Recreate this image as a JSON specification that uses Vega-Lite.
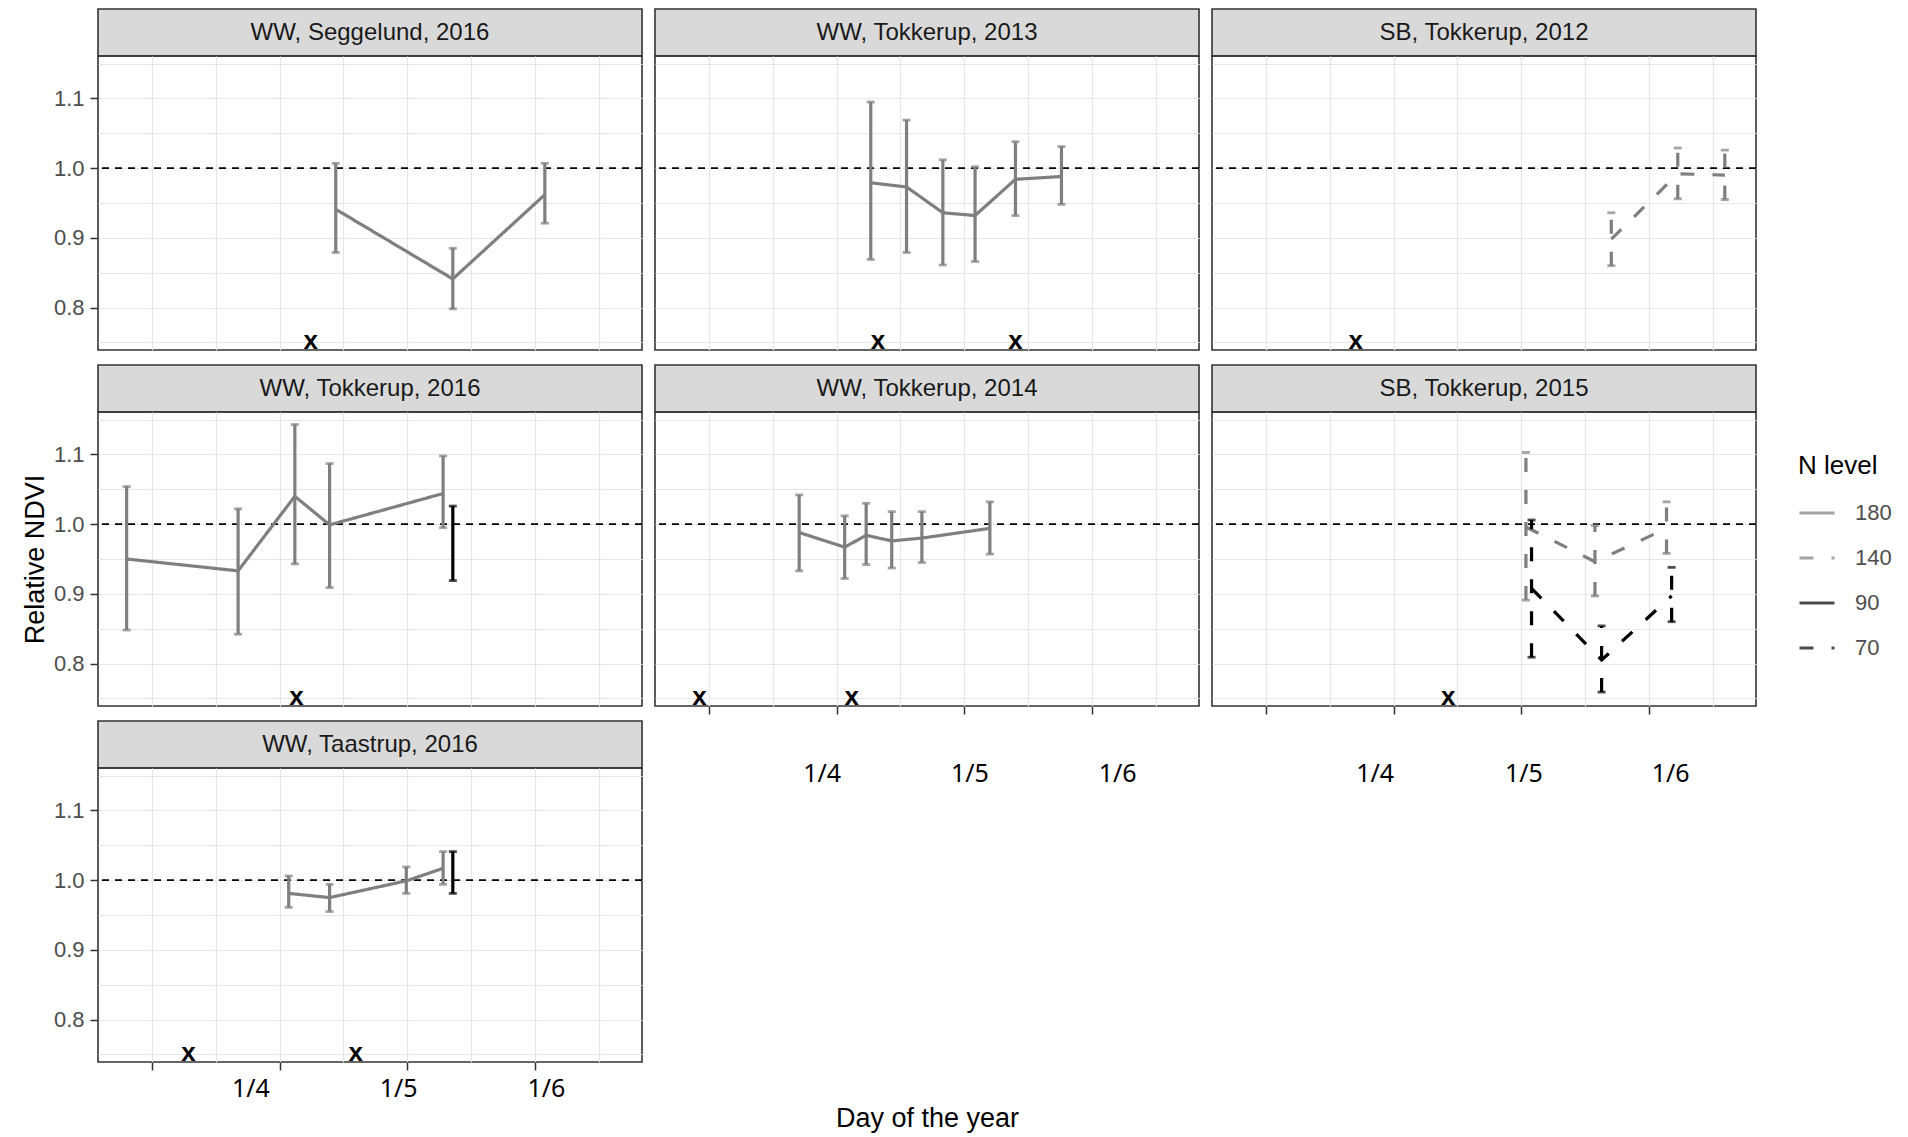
{
"$schema": "https://vega.github.io/schema/vega-lite/v6.json",
"background": "white",
"padding": {"left": 20, "top": 8, "right": 5, "bottom": 5},
"datasets": {
"ndvi": [
{"panel":"WW, Seggelund, 2016","N":"180","doy":111.0,"mean":0.941,"lo":0.879,"hi":1.007},
{"panel":"WW, Seggelund, 2016","N":"180","doy":133.9,"mean":0.841,"lo":0.798,"hi":0.885},
{"panel":"WW, Seggelund, 2016","N":"180","doy":151.9,"mean":0.962,"lo":0.921,"hi":1.007},
{"panel":"WW, Tokkerup, 2013","N":"180","doy":106.7,"mean":0.979,"lo":0.869,"hi":1.095},
{"panel":"WW, Tokkerup, 2013","N":"180","doy":113.7,"mean":0.973,"lo":0.879,"hi":1.069},
{"panel":"WW, Tokkerup, 2013","N":"180","doy":120.8,"mean":0.936,"lo":0.861,"hi":1.012},
{"panel":"WW, Tokkerup, 2013","N":"180","doy":127.1,"mean":0.932,"lo":0.866,"hi":1.002},
{"panel":"WW, Tokkerup, 2013","N":"180","doy":135.0,"mean":0.984,"lo":0.932,"hi":1.038},
{"panel":"WW, Tokkerup, 2013","N":"180","doy":144.0,"mean":0.988,"lo":0.948,"hi":1.031},
{"panel":"SB, Tokkerup, 2012","N":"140","doy":142.6,"mean":0.898,"lo":0.860,"hi":0.936},
{"panel":"SB, Tokkerup, 2012","N":"140","doy":155.6,"mean":0.992,"lo":0.956,"hi":1.029},
{"panel":"SB, Tokkerup, 2012","N":"140","doy":164.8,"mean":0.990,"lo":0.955,"hi":1.026},
{"panel":"WW, Tokkerup, 2016","N":"180","doy":70.1,"mean":0.950,"lo":0.848,"hi":1.054},
{"panel":"WW, Tokkerup, 2016","N":"180","doy":91.9,"mean":0.933,"lo":0.842,"hi":1.022},
{"panel":"WW, Tokkerup, 2016","N":"180","doy":103.0,"mean":1.040,"lo":0.943,"hi":1.143},
{"panel":"WW, Tokkerup, 2016","N":"180","doy":109.8,"mean":0.999,"lo":0.909,"hi":1.087},
{"panel":"WW, Tokkerup, 2016","N":"180","doy":132.0,"mean":1.044,"lo":0.995,"hi":1.098},
{"panel":"WW, Tokkerup, 2016","N":"90","doy":133.9,"mean":0.973,"lo":0.919,"hi":1.026},
{"panel":"WW, Tokkerup, 2014","N":"180","doy":92.7,"mean":0.988,"lo":0.933,"hi":1.042},
{"panel":"WW, Tokkerup, 2014","N":"180","doy":101.6,"mean":0.967,"lo":0.922,"hi":1.012},
{"panel":"WW, Tokkerup, 2014","N":"180","doy":105.8,"mean":0.984,"lo":0.942,"hi":1.030},
{"panel":"WW, Tokkerup, 2014","N":"180","doy":110.8,"mean":0.976,"lo":0.937,"hi":1.018},
{"panel":"WW, Tokkerup, 2014","N":"180","doy":116.7,"mean":0.980,"lo":0.945,"hi":1.018},
{"panel":"WW, Tokkerup, 2014","N":"180","doy":130.0,"mean":0.994,"lo":0.957,"hi":1.032},
{"panel":"SB, Tokkerup, 2015","N":"140","doy":125.9,"mean":0.996,"lo":0.891,"hi":1.103},
{"panel":"SB, Tokkerup, 2015","N":"140","doy":139.4,"mean":0.946,"lo":0.897,"hi":0.998},
{"panel":"SB, Tokkerup, 2015","N":"140","doy":153.4,"mean":0.994,"lo":0.958,"hi":1.032},
{"panel":"SB, Tokkerup, 2015","N":"70","doy":127.0,"mean":0.908,"lo":0.809,"hi":1.006},
{"panel":"SB, Tokkerup, 2015","N":"70","doy":140.7,"mean":0.805,"lo":0.759,"hi":0.854},
{"panel":"SB, Tokkerup, 2015","N":"70","doy":154.4,"mean":0.897,"lo":0.860,"hi":0.938},
{"panel":"WW, Taastrup, 2016","N":"180","doy":101.8,"mean":0.981,"lo":0.961,"hi":1.006},
{"panel":"WW, Taastrup, 2016","N":"180","doy":109.8,"mean":0.975,"lo":0.955,"hi":0.994},
{"panel":"WW, Taastrup, 2016","N":"180","doy":124.8,"mean":0.999,"lo":0.981,"hi":1.019},
{"panel":"WW, Taastrup, 2016","N":"180","doy":132.0,"mean":1.017,"lo":0.994,"hi":1.041},
{"panel":"WW, Taastrup, 2016","N":"90","doy":133.9,"mean":1.011,"lo":0.981,"hi":1.041}
],
"marks": [
{"panel":"WW, Seggelund, 2016","doy":106.1,"level":0.752},
{"panel":"WW, Tokkerup, 2013","doy":108.1,"level":0.752},
{"panel":"WW, Tokkerup, 2013","doy":135.0,"level":0.752},
{"panel":"SB, Tokkerup, 2012","doy":92.6,"level":0.752},
{"panel":"WW, Tokkerup, 2016","doy":103.3,"level":0.752},
{"panel":"WW, Tokkerup, 2014","doy":73.2,"level":0.752},
{"panel":"WW, Tokkerup, 2014","doy":103.0,"level":0.752},
{"panel":"SB, Tokkerup, 2015","doy":110.7,"level":0.752},
{"panel":"WW, Taastrup, 2016","doy":82.2,"level":0.752},
{"panel":"WW, Taastrup, 2016","doy":114.9,"level":0.752}
]
},
"config": {
"font": "Liberation Sans",
"view": {"stroke": "#333333", "strokeWidth": 1.6},
"axis": {"domain": false, "gridColor": "#e6e6e6", "gridWidth": 1.2, "tickColor": "#333333", "tickWidth": 1.5, "tickSize": 8, "labelFont": "Liberation Sans", "labelFontSize": 19, "labelColor": "#4d4d4d", "labelOverlap": false, "labelFlush": false, "titleFont": "Liberation Sans", "titleFontSize": 27, "titleFontWeight": "normal", "titleColor": "#000000"},
"axisX": {"labelFont": "Noto Sans", "labelFontSize": 25, "labelColor": "#000000", "labelAngle": 0},
"axisY": {"labelFontSize": 22, "labelPadding": 6, "titlePadding": 4},
"legend": {"symbolType": "stroke", "symbolSize": 1225, "symbolStrokeWidth": 3, "titleFont": "Liberation Sans", "titleFontSize": 26, "titleFontWeight": "normal", "titleColor": "#000000", "titlePadding": 15, "labelFont": "Liberation Sans", "labelFontSize": 22, "labelColor": "#4d4d4d", "labelOffset": 19, "rowPadding": 15}
},
"spacing": 9,
"hconcat": [
{"spacing": 13, "vconcat": [
 {"vconcat": [
  {"width": 544, "height": 47, "view": {"fill": "#d9d9d9", "stroke": "#333333", "strokeWidth": 1.6}, "data": {"values": [{"label": "WW, Seggelund, 2016"}]}, "mark": {"type": "text", "fontSize": 24, "color": "#1a1a1a"}, "encoding": {"text": {"field": "label"}}},
  {"width": 544, "height": 294, "resolve": {"axis": {"y": "independent"}}, "layer": [
   {"data": {"values": [{"ref": 1}]}, "mark": {"type": "rule", "color": "#000000", "strokeWidth": 1.8, "strokeDash": [7, 6]}, "encoding": {"y": {"field": "ref", "type": "quantitative", "scale": {"domain": [0.739, 1.161], "nice": false, "zero": false}, "axis": {"orient": "left", "values": [0.8,0.9,1,1.1], "format": ".1f", "grid": true, "title": null}}}},
   {"data": {"name": "ndvi"}, "transform": [{"filter": {"field": "panel", "equal": "WW, Seggelund, 2016"}}], "mark": {"type": "line", "strokeWidth": 3.2}, "encoding": {"x": {"field": "doy", "type": "quantitative", "scale": {"domain": [64.5, 170.9], "nice": false, "zero": false}, "axis": {"values": [75,87.5,100,112.5,125,137.5,150,162.5], "grid": true, "labels": false, "ticks": false, "title": null}}, "y": {"field": "mean", "type": "quantitative", "scale": {"domain": [0.739, 1.161], "nice": false, "zero": false}, "axis": null}, "color": {"field": "N", "type": "nominal", "scale": {"domain": ["180","140","90","70"], "range": ["#7f7f7f","#7f7f7f","#000000","#000000"]}, "legend": {"title": "N level", "orient": "none", "legendX": 1700, "legendY": 444}}, "strokeDash": {"field": "N", "type": "nominal", "scale": {"domain": ["180","140","90","70"], "range": [[1,0],[14,18],[1,0],[14,18]]}, "legend": {"title": "N level", "orient": "none", "legendX": 1700, "legendY": 444}}}},
   {"data": {"name": "ndvi"}, "transform": [{"filter": {"field": "panel", "equal": "WW, Seggelund, 2016"}}], "mark": {"type": "rule", "strokeWidth": 3.2}, "encoding": {"x": {"field": "doy", "type": "quantitative", "scale": {"domain": [64.5, 170.9], "nice": false, "zero": false}}, "y": {"field": "lo", "type": "quantitative", "scale": {"domain": [0.739, 1.161], "nice": false, "zero": false}, "axis": null}, "y2": {"field": "hi"}, "color": {"field": "N", "type": "nominal", "scale": {"domain": ["180","140","90","70"], "range": ["#7f7f7f","#7f7f7f","#000000","#000000"]}, "legend": {"title": "N level", "orient": "none", "legendX": 1700, "legendY": 444}}, "strokeDash": {"field": "N", "type": "nominal", "scale": {"domain": ["180","140","90","70"], "range": [[1,0],[14,18],[1,0],[14,18]]}, "legend": {"title": "N level", "orient": "none", "legendX": 1700, "legendY": 444}}}},
   {"data": {"name": "ndvi"}, "transform": [{"filter": {"field": "panel", "equal": "WW, Seggelund, 2016"}}], "mark": {"type": "tick", "orient": "horizontal", "size": 8, "thickness": 2.8}, "encoding": {"x": {"field": "doy", "type": "quantitative", "scale": {"domain": [64.5, 170.9], "nice": false, "zero": false}}, "y": {"field": "lo", "type": "quantitative", "scale": {"domain": [0.739, 1.161], "nice": false, "zero": false}, "axis": null}, "color": {"field": "N", "type": "nominal", "scale": {"domain": ["180","140","90","70"], "range": ["#7f7f7f","#7f7f7f","#000000","#000000"]}, "legend": {"title": "N level", "orient": "none", "legendX": 1700, "legendY": 444}}}},
   {"data": {"name": "ndvi"}, "transform": [{"filter": {"field": "panel", "equal": "WW, Seggelund, 2016"}}], "mark": {"type": "tick", "orient": "horizontal", "size": 8, "thickness": 2.8}, "encoding": {"x": {"field": "doy", "type": "quantitative", "scale": {"domain": [64.5, 170.9], "nice": false, "zero": false}}, "y": {"field": "hi", "type": "quantitative", "scale": {"domain": [0.739, 1.161], "nice": false, "zero": false}, "axis": null}, "color": {"field": "N", "type": "nominal", "scale": {"domain": ["180","140","90","70"], "range": ["#7f7f7f","#7f7f7f","#000000","#000000"]}, "legend": {"title": "N level", "orient": "none", "legendX": 1700, "legendY": 444}}}},
   {"data": {"name": "marks"}, "transform": [{"filter": {"field": "panel", "equal": "WW, Seggelund, 2016"}}], "mark": {"type": "text", "text": "x", "fontSize": 26, "fontWeight": "bold", "color": "#000000", "baseline": "middle", "clip": true}, "encoding": {"x": {"field": "doy", "type": "quantitative", "scale": {"domain": [64.5, 170.9], "nice": false, "zero": false}}, "y": {"field": "level", "type": "quantitative", "scale": {"domain": [0.739, 1.161], "nice": false, "zero": false}, "axis": {"orient": "right", "values": [0.75,0.85,0.95,1.05,1.15], "grid": true, "labels": false, "ticks": false, "title": null}}}}
  ]}
 ], "spacing": 0, "bounds": "flush"},
 {"vconcat": [
  {"width": 544, "height": 47, "view": {"fill": "#d9d9d9", "stroke": "#333333", "strokeWidth": 1.6}, "data": {"values": [{"label": "WW, Tokkerup, 2016"}]}, "mark": {"type": "text", "fontSize": 24, "color": "#1a1a1a"}, "encoding": {"text": {"field": "label"}}},
  {"width": 544, "height": 294, "resolve": {"axis": {"y": "independent"}}, "layer": [
   {"data": {"values": [{"ref": 1}]}, "mark": {"type": "rule", "color": "#000000", "strokeWidth": 1.8, "strokeDash": [7, 6]}, "encoding": {"y": {"field": "ref", "type": "quantitative", "scale": {"domain": [0.739, 1.161], "nice": false, "zero": false}, "axis": {"orient": "left", "values": [0.8,0.9,1,1.1], "format": ".1f", "grid": true, "title": "Relative NDVI"}}}},
   {"data": {"name": "ndvi"}, "transform": [{"filter": {"field": "panel", "equal": "WW, Tokkerup, 2016"}}], "mark": {"type": "line", "strokeWidth": 3.2}, "encoding": {"x": {"field": "doy", "type": "quantitative", "scale": {"domain": [64.5, 170.9], "nice": false, "zero": false}, "axis": {"values": [75,87.5,100,112.5,125,137.5,150,162.5], "grid": true, "labels": false, "ticks": false, "title": null}}, "y": {"field": "mean", "type": "quantitative", "scale": {"domain": [0.739, 1.161], "nice": false, "zero": false}, "axis": null}, "color": {"field": "N", "type": "nominal", "scale": {"domain": ["180","140","90","70"], "range": ["#7f7f7f","#7f7f7f","#000000","#000000"]}, "legend": {"title": "N level", "orient": "none", "legendX": 1700, "legendY": 444}}, "strokeDash": {"field": "N", "type": "nominal", "scale": {"domain": ["180","140","90","70"], "range": [[1,0],[14,18],[1,0],[14,18]]}, "legend": {"title": "N level", "orient": "none", "legendX": 1700, "legendY": 444}}}},
   {"data": {"name": "ndvi"}, "transform": [{"filter": {"field": "panel", "equal": "WW, Tokkerup, 2016"}}], "mark": {"type": "rule", "strokeWidth": 3.2}, "encoding": {"x": {"field": "doy", "type": "quantitative", "scale": {"domain": [64.5, 170.9], "nice": false, "zero": false}}, "y": {"field": "lo", "type": "quantitative", "scale": {"domain": [0.739, 1.161], "nice": false, "zero": false}, "axis": null}, "y2": {"field": "hi"}, "color": {"field": "N", "type": "nominal", "scale": {"domain": ["180","140","90","70"], "range": ["#7f7f7f","#7f7f7f","#000000","#000000"]}, "legend": {"title": "N level", "orient": "none", "legendX": 1700, "legendY": 444}}, "strokeDash": {"field": "N", "type": "nominal", "scale": {"domain": ["180","140","90","70"], "range": [[1,0],[14,18],[1,0],[14,18]]}, "legend": {"title": "N level", "orient": "none", "legendX": 1700, "legendY": 444}}}},
   {"data": {"name": "ndvi"}, "transform": [{"filter": {"field": "panel", "equal": "WW, Tokkerup, 2016"}}], "mark": {"type": "tick", "orient": "horizontal", "size": 8, "thickness": 2.8}, "encoding": {"x": {"field": "doy", "type": "quantitative", "scale": {"domain": [64.5, 170.9], "nice": false, "zero": false}}, "y": {"field": "lo", "type": "quantitative", "scale": {"domain": [0.739, 1.161], "nice": false, "zero": false}, "axis": null}, "color": {"field": "N", "type": "nominal", "scale": {"domain": ["180","140","90","70"], "range": ["#7f7f7f","#7f7f7f","#000000","#000000"]}, "legend": {"title": "N level", "orient": "none", "legendX": 1700, "legendY": 444}}}},
   {"data": {"name": "ndvi"}, "transform": [{"filter": {"field": "panel", "equal": "WW, Tokkerup, 2016"}}], "mark": {"type": "tick", "orient": "horizontal", "size": 8, "thickness": 2.8}, "encoding": {"x": {"field": "doy", "type": "quantitative", "scale": {"domain": [64.5, 170.9], "nice": false, "zero": false}}, "y": {"field": "hi", "type": "quantitative", "scale": {"domain": [0.739, 1.161], "nice": false, "zero": false}, "axis": null}, "color": {"field": "N", "type": "nominal", "scale": {"domain": ["180","140","90","70"], "range": ["#7f7f7f","#7f7f7f","#000000","#000000"]}, "legend": {"title": "N level", "orient": "none", "legendX": 1700, "legendY": 444}}}},
   {"data": {"name": "marks"}, "transform": [{"filter": {"field": "panel", "equal": "WW, Tokkerup, 2016"}}], "mark": {"type": "text", "text": "x", "fontSize": 26, "fontWeight": "bold", "color": "#000000", "baseline": "middle", "clip": true}, "encoding": {"x": {"field": "doy", "type": "quantitative", "scale": {"domain": [64.5, 170.9], "nice": false, "zero": false}}, "y": {"field": "level", "type": "quantitative", "scale": {"domain": [0.739, 1.161], "nice": false, "zero": false}, "axis": {"orient": "right", "values": [0.75,0.85,0.95,1.05,1.15], "grid": true, "labels": false, "ticks": false, "title": null}}}}
  ]}
 ], "spacing": 0, "bounds": "flush"},
 {"vconcat": [
  {"width": 544, "height": 47, "view": {"fill": "#d9d9d9", "stroke": "#333333", "strokeWidth": 1.6}, "data": {"values": [{"label": "WW, Taastrup, 2016"}]}, "mark": {"type": "text", "fontSize": 24, "color": "#1a1a1a"}, "encoding": {"text": {"field": "label"}}},
  {"width": 544, "height": 294, "resolve": {"axis": {"y": "independent"}}, "layer": [
   {"data": {"values": [{"ref": 1}]}, "mark": {"type": "rule", "color": "#000000", "strokeWidth": 1.8, "strokeDash": [7, 6]}, "encoding": {"y": {"field": "ref", "type": "quantitative", "scale": {"domain": [0.739, 1.161], "nice": false, "zero": false}, "axis": {"orient": "left", "values": [0.8,0.9,1,1.1], "format": ".1f", "grid": true, "title": null}}}},
   {"data": {"name": "ndvi"}, "transform": [{"filter": {"field": "panel", "equal": "WW, Taastrup, 2016"}}], "mark": {"type": "line", "strokeWidth": 3.2}, "encoding": {"x": {"field": "doy", "type": "quantitative", "scale": {"domain": [64.5, 170.9], "nice": false, "zero": false}, "axis": {"values": [75,87.5,100,112.5,125,137.5,150,162.5,94.3,123.2,152.1], "grid": true, "gridOpacity": {"condition": {"test": "datum.value % 12.5 == 0", "value": 1}, "value": 0}, "tickOpacity": {"condition": {"test": "datum.value % 25 == 0", "value": 1}, "value": 0}, "labelExpr": "datum.value % 12.5 == 0 ? '' : datum.value < 110 ? '1/4' : datum.value < 140 ? '1/5' : '1/6'", "labelPadding": 6, "title": null}}, "y": {"field": "mean", "type": "quantitative", "scale": {"domain": [0.739, 1.161], "nice": false, "zero": false}, "axis": null}, "color": {"field": "N", "type": "nominal", "scale": {"domain": ["180","140","90","70"], "range": ["#7f7f7f","#7f7f7f","#000000","#000000"]}, "legend": {"title": "N level", "orient": "none", "legendX": 1700, "legendY": 444}}, "strokeDash": {"field": "N", "type": "nominal", "scale": {"domain": ["180","140","90","70"], "range": [[1,0],[14,18],[1,0],[14,18]]}, "legend": {"title": "N level", "orient": "none", "legendX": 1700, "legendY": 444}}}},
   {"data": {"name": "ndvi"}, "transform": [{"filter": {"field": "panel", "equal": "WW, Taastrup, 2016"}}], "mark": {"type": "rule", "strokeWidth": 3.2}, "encoding": {"x": {"field": "doy", "type": "quantitative", "scale": {"domain": [64.5, 170.9], "nice": false, "zero": false}}, "y": {"field": "lo", "type": "quantitative", "scale": {"domain": [0.739, 1.161], "nice": false, "zero": false}, "axis": null}, "y2": {"field": "hi"}, "color": {"field": "N", "type": "nominal", "scale": {"domain": ["180","140","90","70"], "range": ["#7f7f7f","#7f7f7f","#000000","#000000"]}, "legend": {"title": "N level", "orient": "none", "legendX": 1700, "legendY": 444}}, "strokeDash": {"field": "N", "type": "nominal", "scale": {"domain": ["180","140","90","70"], "range": [[1,0],[14,18],[1,0],[14,18]]}, "legend": {"title": "N level", "orient": "none", "legendX": 1700, "legendY": 444}}}},
   {"data": {"name": "ndvi"}, "transform": [{"filter": {"field": "panel", "equal": "WW, Taastrup, 2016"}}], "mark": {"type": "tick", "orient": "horizontal", "size": 8, "thickness": 2.8}, "encoding": {"x": {"field": "doy", "type": "quantitative", "scale": {"domain": [64.5, 170.9], "nice": false, "zero": false}}, "y": {"field": "lo", "type": "quantitative", "scale": {"domain": [0.739, 1.161], "nice": false, "zero": false}, "axis": null}, "color": {"field": "N", "type": "nominal", "scale": {"domain": ["180","140","90","70"], "range": ["#7f7f7f","#7f7f7f","#000000","#000000"]}, "legend": {"title": "N level", "orient": "none", "legendX": 1700, "legendY": 444}}}},
   {"data": {"name": "ndvi"}, "transform": [{"filter": {"field": "panel", "equal": "WW, Taastrup, 2016"}}], "mark": {"type": "tick", "orient": "horizontal", "size": 8, "thickness": 2.8}, "encoding": {"x": {"field": "doy", "type": "quantitative", "scale": {"domain": [64.5, 170.9], "nice": false, "zero": false}}, "y": {"field": "hi", "type": "quantitative", "scale": {"domain": [0.739, 1.161], "nice": false, "zero": false}, "axis": null}, "color": {"field": "N", "type": "nominal", "scale": {"domain": ["180","140","90","70"], "range": ["#7f7f7f","#7f7f7f","#000000","#000000"]}, "legend": {"title": "N level", "orient": "none", "legendX": 1700, "legendY": 444}}}},
   {"data": {"name": "marks"}, "transform": [{"filter": {"field": "panel", "equal": "WW, Taastrup, 2016"}}], "mark": {"type": "text", "text": "x", "fontSize": 26, "fontWeight": "bold", "color": "#000000", "baseline": "middle", "clip": true}, "encoding": {"x": {"field": "doy", "type": "quantitative", "scale": {"domain": [64.5, 170.9], "nice": false, "zero": false}}, "y": {"field": "level", "type": "quantitative", "scale": {"domain": [0.739, 1.161], "nice": false, "zero": false}, "axis": {"orient": "right", "values": [0.75,0.85,0.95,1.05,1.15], "grid": true, "labels": false, "ticks": false, "title": null}}}}
  ]}
 ], "spacing": 0, "bounds": "flush"}
]},
{"spacing": 13, "vconcat": [
 {"vconcat": [
  {"width": 544, "height": 47, "view": {"fill": "#d9d9d9", "stroke": "#333333", "strokeWidth": 1.6}, "data": {"values": [{"label": "WW, Tokkerup, 2013"}]}, "mark": {"type": "text", "fontSize": 24, "color": "#1a1a1a"}, "encoding": {"text": {"field": "label"}}},
  {"width": 544, "height": 294, "resolve": {"axis": {"y": "independent"}}, "layer": [
   {"data": {"values": [{"ref": 1}]}, "mark": {"type": "rule", "color": "#000000", "strokeWidth": 1.8, "strokeDash": [7, 6]}, "encoding": {"y": {"field": "ref", "type": "quantitative", "scale": {"domain": [0.739, 1.161], "nice": false, "zero": false}, "axis": {"orient": "left", "values": [0.8,0.9,1,1.1], "grid": true, "labels": false, "ticks": false, "title": null}}}},
   {"data": {"name": "ndvi"}, "transform": [{"filter": {"field": "panel", "equal": "WW, Tokkerup, 2013"}}], "mark": {"type": "line", "strokeWidth": 3.2}, "encoding": {"x": {"field": "doy", "type": "quantitative", "scale": {"domain": [64.5, 170.9], "nice": false, "zero": false}, "axis": {"values": [75,87.5,100,112.5,125,137.5,150,162.5], "grid": true, "labels": false, "ticks": false, "title": null}}, "y": {"field": "mean", "type": "quantitative", "scale": {"domain": [0.739, 1.161], "nice": false, "zero": false}, "axis": null}, "color": {"field": "N", "type": "nominal", "scale": {"domain": ["180","140","90","70"], "range": ["#7f7f7f","#7f7f7f","#000000","#000000"]}, "legend": {"title": "N level", "orient": "none", "legendX": 1700, "legendY": 444}}, "strokeDash": {"field": "N", "type": "nominal", "scale": {"domain": ["180","140","90","70"], "range": [[1,0],[14,18],[1,0],[14,18]]}, "legend": {"title": "N level", "orient": "none", "legendX": 1700, "legendY": 444}}}},
   {"data": {"name": "ndvi"}, "transform": [{"filter": {"field": "panel", "equal": "WW, Tokkerup, 2013"}}], "mark": {"type": "rule", "strokeWidth": 3.2}, "encoding": {"x": {"field": "doy", "type": "quantitative", "scale": {"domain": [64.5, 170.9], "nice": false, "zero": false}}, "y": {"field": "lo", "type": "quantitative", "scale": {"domain": [0.739, 1.161], "nice": false, "zero": false}, "axis": null}, "y2": {"field": "hi"}, "color": {"field": "N", "type": "nominal", "scale": {"domain": ["180","140","90","70"], "range": ["#7f7f7f","#7f7f7f","#000000","#000000"]}, "legend": {"title": "N level", "orient": "none", "legendX": 1700, "legendY": 444}}, "strokeDash": {"field": "N", "type": "nominal", "scale": {"domain": ["180","140","90","70"], "range": [[1,0],[14,18],[1,0],[14,18]]}, "legend": {"title": "N level", "orient": "none", "legendX": 1700, "legendY": 444}}}},
   {"data": {"name": "ndvi"}, "transform": [{"filter": {"field": "panel", "equal": "WW, Tokkerup, 2013"}}], "mark": {"type": "tick", "orient": "horizontal", "size": 8, "thickness": 2.8}, "encoding": {"x": {"field": "doy", "type": "quantitative", "scale": {"domain": [64.5, 170.9], "nice": false, "zero": false}}, "y": {"field": "lo", "type": "quantitative", "scale": {"domain": [0.739, 1.161], "nice": false, "zero": false}, "axis": null}, "color": {"field": "N", "type": "nominal", "scale": {"domain": ["180","140","90","70"], "range": ["#7f7f7f","#7f7f7f","#000000","#000000"]}, "legend": {"title": "N level", "orient": "none", "legendX": 1700, "legendY": 444}}}},
   {"data": {"name": "ndvi"}, "transform": [{"filter": {"field": "panel", "equal": "WW, Tokkerup, 2013"}}], "mark": {"type": "tick", "orient": "horizontal", "size": 8, "thickness": 2.8}, "encoding": {"x": {"field": "doy", "type": "quantitative", "scale": {"domain": [64.5, 170.9], "nice": false, "zero": false}}, "y": {"field": "hi", "type": "quantitative", "scale": {"domain": [0.739, 1.161], "nice": false, "zero": false}, "axis": null}, "color": {"field": "N", "type": "nominal", "scale": {"domain": ["180","140","90","70"], "range": ["#7f7f7f","#7f7f7f","#000000","#000000"]}, "legend": {"title": "N level", "orient": "none", "legendX": 1700, "legendY": 444}}}},
   {"data": {"name": "marks"}, "transform": [{"filter": {"field": "panel", "equal": "WW, Tokkerup, 2013"}}], "mark": {"type": "text", "text": "x", "fontSize": 26, "fontWeight": "bold", "color": "#000000", "baseline": "middle", "clip": true}, "encoding": {"x": {"field": "doy", "type": "quantitative", "scale": {"domain": [64.5, 170.9], "nice": false, "zero": false}}, "y": {"field": "level", "type": "quantitative", "scale": {"domain": [0.739, 1.161], "nice": false, "zero": false}, "axis": {"orient": "right", "values": [0.75,0.85,0.95,1.05,1.15], "grid": true, "labels": false, "ticks": false, "title": null}}}}
  ]}
 ], "spacing": 0, "bounds": "flush"},
 {"vconcat": [
  {"width": 544, "height": 47, "view": {"fill": "#d9d9d9", "stroke": "#333333", "strokeWidth": 1.6}, "data": {"values": [{"label": "WW, Tokkerup, 2014"}]}, "mark": {"type": "text", "fontSize": 24, "color": "#1a1a1a"}, "encoding": {"text": {"field": "label"}}},
  {"width": 544, "height": 294, "resolve": {"axis": {"y": "independent"}}, "layer": [
   {"data": {"values": [{"ref": 1}]}, "mark": {"type": "rule", "color": "#000000", "strokeWidth": 1.8, "strokeDash": [7, 6]}, "encoding": {"y": {"field": "ref", "type": "quantitative", "scale": {"domain": [0.739, 1.161], "nice": false, "zero": false}, "axis": {"orient": "left", "values": [0.8,0.9,1,1.1], "grid": true, "labels": false, "ticks": false, "title": null}}}},
   {"data": {"name": "ndvi"}, "transform": [{"filter": {"field": "panel", "equal": "WW, Tokkerup, 2014"}}], "mark": {"type": "line", "strokeWidth": 3.2}, "encoding": {"x": {"field": "doy", "type": "quantitative", "scale": {"domain": [64.5, 170.9], "nice": false, "zero": false}, "axis": {"values": [75,87.5,100,112.5,125,137.5,150,162.5,97.1,126,154.9], "grid": true, "gridOpacity": {"condition": {"test": "datum.value % 12.5 == 0", "value": 1}, "value": 0}, "tickOpacity": {"condition": {"test": "datum.value % 25 == 0", "value": 1}, "value": 0}, "labelExpr": "datum.value % 12.5 == 0 ? '' : datum.value < 110 ? '1/4' : datum.value < 140 ? '1/5' : '1/6'", "labelPadding": 47, "title": "Day of the year", "titleX": 272, "titleY": 412, "titleAlign": "center", "titleBaseline": "middle"}}, "y": {"field": "mean", "type": "quantitative", "scale": {"domain": [0.739, 1.161], "nice": false, "zero": false}, "axis": null}, "color": {"field": "N", "type": "nominal", "scale": {"domain": ["180","140","90","70"], "range": ["#7f7f7f","#7f7f7f","#000000","#000000"]}, "legend": {"title": "N level", "orient": "none", "legendX": 1700, "legendY": 444}}, "strokeDash": {"field": "N", "type": "nominal", "scale": {"domain": ["180","140","90","70"], "range": [[1,0],[14,18],[1,0],[14,18]]}, "legend": {"title": "N level", "orient": "none", "legendX": 1700, "legendY": 444}}}},
   {"data": {"name": "ndvi"}, "transform": [{"filter": {"field": "panel", "equal": "WW, Tokkerup, 2014"}}], "mark": {"type": "rule", "strokeWidth": 3.2}, "encoding": {"x": {"field": "doy", "type": "quantitative", "scale": {"domain": [64.5, 170.9], "nice": false, "zero": false}}, "y": {"field": "lo", "type": "quantitative", "scale": {"domain": [0.739, 1.161], "nice": false, "zero": false}, "axis": null}, "y2": {"field": "hi"}, "color": {"field": "N", "type": "nominal", "scale": {"domain": ["180","140","90","70"], "range": ["#7f7f7f","#7f7f7f","#000000","#000000"]}, "legend": {"title": "N level", "orient": "none", "legendX": 1700, "legendY": 444}}, "strokeDash": {"field": "N", "type": "nominal", "scale": {"domain": ["180","140","90","70"], "range": [[1,0],[14,18],[1,0],[14,18]]}, "legend": {"title": "N level", "orient": "none", "legendX": 1700, "legendY": 444}}}},
   {"data": {"name": "ndvi"}, "transform": [{"filter": {"field": "panel", "equal": "WW, Tokkerup, 2014"}}], "mark": {"type": "tick", "orient": "horizontal", "size": 8, "thickness": 2.8}, "encoding": {"x": {"field": "doy", "type": "quantitative", "scale": {"domain": [64.5, 170.9], "nice": false, "zero": false}}, "y": {"field": "lo", "type": "quantitative", "scale": {"domain": [0.739, 1.161], "nice": false, "zero": false}, "axis": null}, "color": {"field": "N", "type": "nominal", "scale": {"domain": ["180","140","90","70"], "range": ["#7f7f7f","#7f7f7f","#000000","#000000"]}, "legend": {"title": "N level", "orient": "none", "legendX": 1700, "legendY": 444}}}},
   {"data": {"name": "ndvi"}, "transform": [{"filter": {"field": "panel", "equal": "WW, Tokkerup, 2014"}}], "mark": {"type": "tick", "orient": "horizontal", "size": 8, "thickness": 2.8}, "encoding": {"x": {"field": "doy", "type": "quantitative", "scale": {"domain": [64.5, 170.9], "nice": false, "zero": false}}, "y": {"field": "hi", "type": "quantitative", "scale": {"domain": [0.739, 1.161], "nice": false, "zero": false}, "axis": null}, "color": {"field": "N", "type": "nominal", "scale": {"domain": ["180","140","90","70"], "range": ["#7f7f7f","#7f7f7f","#000000","#000000"]}, "legend": {"title": "N level", "orient": "none", "legendX": 1700, "legendY": 444}}}},
   {"data": {"name": "marks"}, "transform": [{"filter": {"field": "panel", "equal": "WW, Tokkerup, 2014"}}], "mark": {"type": "text", "text": "x", "fontSize": 26, "fontWeight": "bold", "color": "#000000", "baseline": "middle", "clip": true}, "encoding": {"x": {"field": "doy", "type": "quantitative", "scale": {"domain": [64.5, 170.9], "nice": false, "zero": false}}, "y": {"field": "level", "type": "quantitative", "scale": {"domain": [0.739, 1.161], "nice": false, "zero": false}, "axis": {"orient": "right", "values": [0.75,0.85,0.95,1.05,1.15], "grid": true, "labels": false, "ticks": false, "title": null}}}}
  ]}
 ], "spacing": 0, "bounds": "flush"}
]},
{"spacing": 13, "vconcat": [
 {"vconcat": [
  {"width": 544, "height": 47, "view": {"fill": "#d9d9d9", "stroke": "#333333", "strokeWidth": 1.6}, "data": {"values": [{"label": "SB, Tokkerup, 2012"}]}, "mark": {"type": "text", "fontSize": 24, "color": "#1a1a1a"}, "encoding": {"text": {"field": "label"}}},
  {"width": 544, "height": 294, "resolve": {"axis": {"y": "independent"}}, "layer": [
   {"data": {"values": [{"ref": 1}]}, "mark": {"type": "rule", "color": "#000000", "strokeWidth": 1.8, "strokeDash": [7, 6]}, "encoding": {"y": {"field": "ref", "type": "quantitative", "scale": {"domain": [0.739, 1.161], "nice": false, "zero": false}, "axis": {"orient": "left", "values": [0.8,0.9,1,1.1], "grid": true, "labels": false, "ticks": false, "title": null}}}},
   {"data": {"name": "ndvi"}, "transform": [{"filter": {"field": "panel", "equal": "SB, Tokkerup, 2012"}}], "mark": {"type": "line", "strokeWidth": 3.2}, "encoding": {"x": {"field": "doy", "type": "quantitative", "scale": {"domain": [64.5, 170.9], "nice": false, "zero": false}, "axis": {"values": [75,87.5,100,112.5,125,137.5,150,162.5], "grid": true, "labels": false, "ticks": false, "title": null}}, "y": {"field": "mean", "type": "quantitative", "scale": {"domain": [0.739, 1.161], "nice": false, "zero": false}, "axis": null}, "color": {"field": "N", "type": "nominal", "scale": {"domain": ["180","140","90","70"], "range": ["#7f7f7f","#7f7f7f","#000000","#000000"]}, "legend": {"title": "N level", "orient": "none", "legendX": 1700, "legendY": 444}}, "strokeDash": {"field": "N", "type": "nominal", "scale": {"domain": ["180","140","90","70"], "range": [[1,0],[14,18],[1,0],[14,18]]}, "legend": {"title": "N level", "orient": "none", "legendX": 1700, "legendY": 444}}}},
   {"data": {"name": "ndvi"}, "transform": [{"filter": {"field": "panel", "equal": "SB, Tokkerup, 2012"}}], "mark": {"type": "rule", "strokeWidth": 3.2}, "encoding": {"x": {"field": "doy", "type": "quantitative", "scale": {"domain": [64.5, 170.9], "nice": false, "zero": false}}, "y": {"field": "lo", "type": "quantitative", "scale": {"domain": [0.739, 1.161], "nice": false, "zero": false}, "axis": null}, "y2": {"field": "hi"}, "color": {"field": "N", "type": "nominal", "scale": {"domain": ["180","140","90","70"], "range": ["#7f7f7f","#7f7f7f","#000000","#000000"]}, "legend": {"title": "N level", "orient": "none", "legendX": 1700, "legendY": 444}}, "strokeDash": {"field": "N", "type": "nominal", "scale": {"domain": ["180","140","90","70"], "range": [[1,0],[14,18],[1,0],[14,18]]}, "legend": {"title": "N level", "orient": "none", "legendX": 1700, "legendY": 444}}}},
   {"data": {"name": "ndvi"}, "transform": [{"filter": {"field": "panel", "equal": "SB, Tokkerup, 2012"}}], "mark": {"type": "tick", "orient": "horizontal", "size": 8, "thickness": 2.8}, "encoding": {"x": {"field": "doy", "type": "quantitative", "scale": {"domain": [64.5, 170.9], "nice": false, "zero": false}}, "y": {"field": "lo", "type": "quantitative", "scale": {"domain": [0.739, 1.161], "nice": false, "zero": false}, "axis": null}, "color": {"field": "N", "type": "nominal", "scale": {"domain": ["180","140","90","70"], "range": ["#7f7f7f","#7f7f7f","#000000","#000000"]}, "legend": {"title": "N level", "orient": "none", "legendX": 1700, "legendY": 444}}}},
   {"data": {"name": "ndvi"}, "transform": [{"filter": {"field": "panel", "equal": "SB, Tokkerup, 2012"}}], "mark": {"type": "tick", "orient": "horizontal", "size": 8, "thickness": 2.8}, "encoding": {"x": {"field": "doy", "type": "quantitative", "scale": {"domain": [64.5, 170.9], "nice": false, "zero": false}}, "y": {"field": "hi", "type": "quantitative", "scale": {"domain": [0.739, 1.161], "nice": false, "zero": false}, "axis": null}, "color": {"field": "N", "type": "nominal", "scale": {"domain": ["180","140","90","70"], "range": ["#7f7f7f","#7f7f7f","#000000","#000000"]}, "legend": {"title": "N level", "orient": "none", "legendX": 1700, "legendY": 444}}}},
   {"data": {"name": "marks"}, "transform": [{"filter": {"field": "panel", "equal": "SB, Tokkerup, 2012"}}], "mark": {"type": "text", "text": "x", "fontSize": 26, "fontWeight": "bold", "color": "#000000", "baseline": "middle", "clip": true}, "encoding": {"x": {"field": "doy", "type": "quantitative", "scale": {"domain": [64.5, 170.9], "nice": false, "zero": false}}, "y": {"field": "level", "type": "quantitative", "scale": {"domain": [0.739, 1.161], "nice": false, "zero": false}, "axis": {"orient": "right", "values": [0.75,0.85,0.95,1.05,1.15], "grid": true, "labels": false, "ticks": false, "title": null}}}}
  ]}
 ], "spacing": 0, "bounds": "flush"},
 {"vconcat": [
  {"width": 544, "height": 47, "view": {"fill": "#d9d9d9", "stroke": "#333333", "strokeWidth": 1.6}, "data": {"values": [{"label": "SB, Tokkerup, 2015"}]}, "mark": {"type": "text", "fontSize": 24, "color": "#1a1a1a"}, "encoding": {"text": {"field": "label"}}},
  {"width": 544, "height": 294, "resolve": {"axis": {"y": "independent"}}, "layer": [
   {"data": {"values": [{"ref": 1}]}, "mark": {"type": "rule", "color": "#000000", "strokeWidth": 1.8, "strokeDash": [7, 6]}, "encoding": {"y": {"field": "ref", "type": "quantitative", "scale": {"domain": [0.739, 1.161], "nice": false, "zero": false}, "axis": {"orient": "left", "values": [0.8,0.9,1,1.1], "grid": true, "labels": false, "ticks": false, "title": null}}}},
   {"data": {"name": "ndvi"}, "transform": [{"filter": {"field": "panel", "equal": "SB, Tokkerup, 2015"}}], "mark": {"type": "line", "strokeWidth": 3.2}, "encoding": {"x": {"field": "doy", "type": "quantitative", "scale": {"domain": [64.5, 170.9], "nice": false, "zero": false}, "axis": {"values": [75,87.5,100,112.5,125,137.5,150,162.5,96.3,125.4,154.1], "grid": true, "gridOpacity": {"condition": {"test": "datum.value % 12.5 == 0", "value": 1}, "value": 0}, "tickOpacity": {"condition": {"test": "datum.value % 25 == 0", "value": 1}, "value": 0}, "labelExpr": "datum.value % 12.5 == 0 ? '' : datum.value < 110 ? '1/4' : datum.value < 140 ? '1/5' : '1/6'", "labelPadding": 47, "title": null}}, "y": {"field": "mean", "type": "quantitative", "scale": {"domain": [0.739, 1.161], "nice": false, "zero": false}, "axis": null}, "color": {"field": "N", "type": "nominal", "scale": {"domain": ["180","140","90","70"], "range": ["#7f7f7f","#7f7f7f","#000000","#000000"]}, "legend": {"title": "N level", "orient": "none", "legendX": 1700, "legendY": 444}}, "strokeDash": {"field": "N", "type": "nominal", "scale": {"domain": ["180","140","90","70"], "range": [[1,0],[14,18],[1,0],[14,18]]}, "legend": {"title": "N level", "orient": "none", "legendX": 1700, "legendY": 444}}}},
   {"data": {"name": "ndvi"}, "transform": [{"filter": {"field": "panel", "equal": "SB, Tokkerup, 2015"}}], "mark": {"type": "rule", "strokeWidth": 3.2}, "encoding": {"x": {"field": "doy", "type": "quantitative", "scale": {"domain": [64.5, 170.9], "nice": false, "zero": false}}, "y": {"field": "lo", "type": "quantitative", "scale": {"domain": [0.739, 1.161], "nice": false, "zero": false}, "axis": null}, "y2": {"field": "hi"}, "color": {"field": "N", "type": "nominal", "scale": {"domain": ["180","140","90","70"], "range": ["#7f7f7f","#7f7f7f","#000000","#000000"]}, "legend": {"title": "N level", "orient": "none", "legendX": 1700, "legendY": 444}}, "strokeDash": {"field": "N", "type": "nominal", "scale": {"domain": ["180","140","90","70"], "range": [[1,0],[14,18],[1,0],[14,18]]}, "legend": {"title": "N level", "orient": "none", "legendX": 1700, "legendY": 444}}}},
   {"data": {"name": "ndvi"}, "transform": [{"filter": {"field": "panel", "equal": "SB, Tokkerup, 2015"}}], "mark": {"type": "tick", "orient": "horizontal", "size": 8, "thickness": 2.8}, "encoding": {"x": {"field": "doy", "type": "quantitative", "scale": {"domain": [64.5, 170.9], "nice": false, "zero": false}}, "y": {"field": "lo", "type": "quantitative", "scale": {"domain": [0.739, 1.161], "nice": false, "zero": false}, "axis": null}, "color": {"field": "N", "type": "nominal", "scale": {"domain": ["180","140","90","70"], "range": ["#7f7f7f","#7f7f7f","#000000","#000000"]}, "legend": {"title": "N level", "orient": "none", "legendX": 1700, "legendY": 444}}}},
   {"data": {"name": "ndvi"}, "transform": [{"filter": {"field": "panel", "equal": "SB, Tokkerup, 2015"}}], "mark": {"type": "tick", "orient": "horizontal", "size": 8, "thickness": 2.8}, "encoding": {"x": {"field": "doy", "type": "quantitative", "scale": {"domain": [64.5, 170.9], "nice": false, "zero": false}}, "y": {"field": "hi", "type": "quantitative", "scale": {"domain": [0.739, 1.161], "nice": false, "zero": false}, "axis": null}, "color": {"field": "N", "type": "nominal", "scale": {"domain": ["180","140","90","70"], "range": ["#7f7f7f","#7f7f7f","#000000","#000000"]}, "legend": {"title": "N level", "orient": "none", "legendX": 1700, "legendY": 444}}}},
   {"data": {"name": "marks"}, "transform": [{"filter": {"field": "panel", "equal": "SB, Tokkerup, 2015"}}], "mark": {"type": "text", "text": "x", "fontSize": 26, "fontWeight": "bold", "color": "#000000", "baseline": "middle", "clip": true}, "encoding": {"x": {"field": "doy", "type": "quantitative", "scale": {"domain": [64.5, 170.9], "nice": false, "zero": false}}, "y": {"field": "level", "type": "quantitative", "scale": {"domain": [0.739, 1.161], "nice": false, "zero": false}, "axis": {"orient": "right", "values": [0.75,0.85,0.95,1.05,1.15], "grid": true, "labels": false, "ticks": false, "title": null}}}}
  ]}
 ], "spacing": 0, "bounds": "flush"}
]}
]
}
